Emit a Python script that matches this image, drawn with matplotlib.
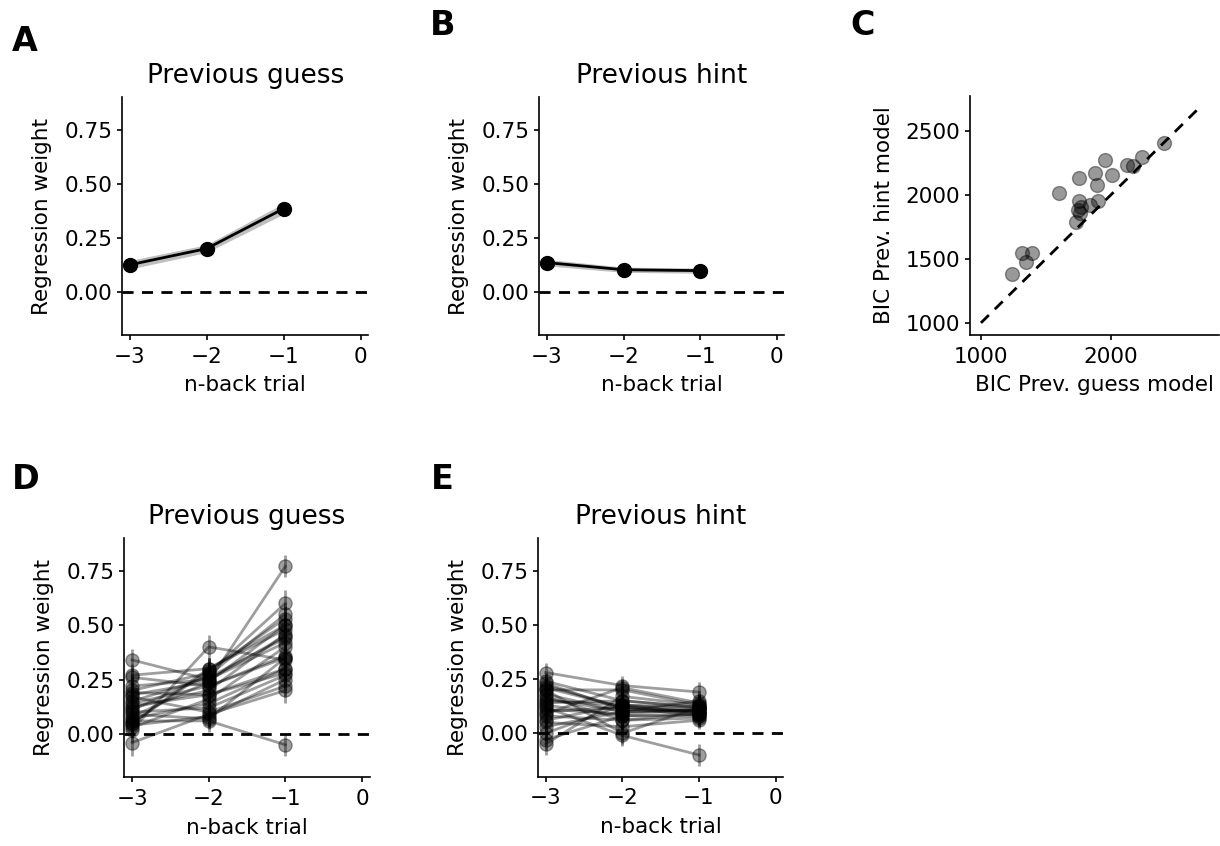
import numpy as np
import matplotlib
matplotlib.use("Agg")
import matplotlib.pyplot as plt

# n-back positions
nback = [-3, -2, -1]

# group means (A, B) with SEM band
guess_mean = [0.125, 0.200, 0.385]
guess_sem = [0.020, 0.018, 0.025]
hint_mean = [0.135, 0.102, 0.098]
hint_sem = [0.015, 0.012, 0.012]

# BIC per subject (C)
bic_guess = [1242, 1313, 1349, 1394, 1603, 1751, 1751, 1746, 1760, 1730, 1840,
             1878, 1891, 1898, 1954, 2005, 2120, 2170, 2239, 2407, 1771]
bic_hint = [1380, 1545, 1476, 1542, 2016, 2131, 1955, 1882, 1860, 1785, 1921,
            2170, 2079, 1948, 2270, 2152, 2236, 2225, 2296, 2408, 1903]
bic_line = [1000, 2700]

# per-subject weights (D): columns are -3, -2, -1
subj_guess_m3 = [0.34, 0.27, 0.26, 0.20, 0.19, 0.17, 0.15, 0.02, 0.10, 0.08, 0.06, 0.05,
                 0.04, 0.03, 0.12, -0.04, 0.11, 0.09, 0.14, 0.22, 0.07, 0.05, 0.13, 0.18]
subj_guess_m2 = [0.25, 0.30, 0.22, 0.28, 0.18, 0.10, 0.26, 0.40, 0.12, 0.24, 0.06, 0.29,
                 0.08, 0.16, 0.20, 0.09, 0.27, 0.07, 0.22, 0.25, 0.14, 0.30, 0.18, 0.24]
subj_guess_m1 = [0.45, 0.50, 0.35, 0.60, 0.30, 0.22, 0.44, 0.34, 0.27, 0.77, -0.05, 0.53,
                 0.25, 0.40, 0.46, 0.20, 0.55, 0.35, 0.36, 0.42, 0.30, 0.48, 0.28, 0.50]
subj_guess_se = [0.05, 0.05, 0.045, 0.06, 0.05, 0.045, 0.05, 0.055, 0.045, 0.05, 0.05, 0.06,
                 0.045, 0.05, 0.05, 0.06, 0.05, 0.045, 0.05, 0.05, 0.045, 0.05, 0.05, 0.05]

# per-subject weights (E)
subj_hint_m3 = [0.28, 0.24, 0.22, 0.20, 0.18, 0.15, 0.13, 0.20, 0.10, 0.08, 0.05, 0.03,
                0.00, -0.03, 0.12, -0.05, 0.16, 0.14, 0.21, 0.11, 0.09, 0.23, 0.17, 0.06]
subj_hint_m2 = [0.22, 0.15, 0.12, 0.20, 0.10, 0.13, 0.08, 0.00, 0.12, 0.06, 0.03, 0.10,
                0.13, 0.08, -0.01, 0.17, 0.10, 0.15, 0.12, 0.09, 0.21, 0.11, 0.06, 0.13]
subj_hint_m1 = [0.19, 0.12, 0.10, 0.13, 0.11, 0.09, 0.08, 0.12, 0.10, 0.07, 0.06, 0.15,
                0.11, 0.09, -0.10, 0.13, 0.10, 0.12, 0.08, 0.11, 0.14, 0.10, 0.09, 0.12]
subj_hint_se = [0.045, 0.04, 0.04, 0.045, 0.04, 0.04, 0.04, 0.05, 0.04, 0.04, 0.04, 0.045,
                0.04, 0.045, 0.05, 0.05, 0.04, 0.04, 0.045, 0.04, 0.04, 0.045, 0.04, 0.04]

plt.rcParams['font.size'] = 15.5
plt.rcParams['axes.linewidth'] = 1.2
plt.rcParams['xtick.major.width'] = 1.2
plt.rcParams['ytick.major.width'] = 1.2
plt.rcParams['xtick.major.pad'] = 5
plt.rcParams['axes.labelpad'] = 6

fig = plt.figure(figsize=(12.2, 8.46), dpi=100)
axA = fig.add_axes([0.100, 0.604, 0.202, 0.281])
axB = fig.add_axes([0.442, 0.604, 0.201, 0.281])
axC = fig.add_axes([0.795, 0.604, 0.204, 0.283])
axD = fig.add_axes([0.102, 0.081, 0.201, 0.283])
axE = fig.add_axes([0.441, 0.082, 0.201, 0.282])


def style_weight_axis(ax, title):
    ax.axhline(0, color='k', ls='--', lw=2, dashes=(4, 3))
    ax.set_xlim(-3.1, 0.1)
    ax.set_ylim(-0.2, 0.9)
    ax.set_xticks([-3, -2, -1, 0])
    ax.set_yticks([0.0, 0.25, 0.5, 0.75])
    ax.set_xlabel('n-back trial')
    ax.set_ylabel('Regression weight', labelpad=9)
    ax.set_title(title, fontsize=19, pad=10)
    ax.spines['top'].set_visible(False)
    ax.spines['right'].set_visible(False)


def plot_mean(ax, mean, sem, title):
    m = np.array(mean)
    s = np.array(sem)
    ax.fill_between(nback, m - s, m + s, color='gray', alpha=0.5, lw=0)
    ax.plot(nback, m, 'o-', color='k', lw=2, markersize=10)
    style_weight_axis(ax, title)


def plot_subjects(ax, m3, m2, m1, se, title):
    for i in range(len(m3)):
        ys = [m3[i], m2[i], m1[i]]
        ax.errorbar(nback, ys, yerr=se[i], fmt='o-', color='k', alpha=0.38,
                    markersize=9.5, lw=2, elinewidth=2)
    style_weight_axis(ax, title)


plot_mean(axA, guess_mean, guess_sem, 'Previous guess')
plot_mean(axB, hint_mean, hint_sem, 'Previous hint')
plot_subjects(axD, subj_guess_m3, subj_guess_m2, subj_guess_m1, subj_guess_se, 'Previous guess')
plot_subjects(axE, subj_hint_m3, subj_hint_m2, subj_hint_m1, subj_hint_se, 'Previous hint')

axC.scatter(bic_guess, bic_hint, s=100, color='k', alpha=0.4)
axC.plot(bic_line, bic_line, color='k', ls='--', lw=2, dashes=(4, 3))
axC.set_xlim(915, 2830)
axC.set_ylim(905, 2775)
axC.set_xticks([1000, 2000])
axC.set_yticks([1000, 1500, 2000, 2500])
axC.set_xlabel('BIC Prev. guess model')
axC.set_ylabel('BIC Prev. hint model', labelpad=8)
axC.spines['top'].set_visible(False)
axC.spines['right'].set_visible(False)

# panel letters (top-left corner of each glyph)
for lbl, x, y in [('A', 0.010, 0.970), ('B', 0.352, 0.989), ('C', 0.697, 0.989),
                  ('D', 0.010, 0.453), ('E', 0.353, 0.453)]:
    fig.text(x, y, lbl, fontsize=24, fontweight='bold', va='top')

fig.savefig('out.png', dpi=100)
